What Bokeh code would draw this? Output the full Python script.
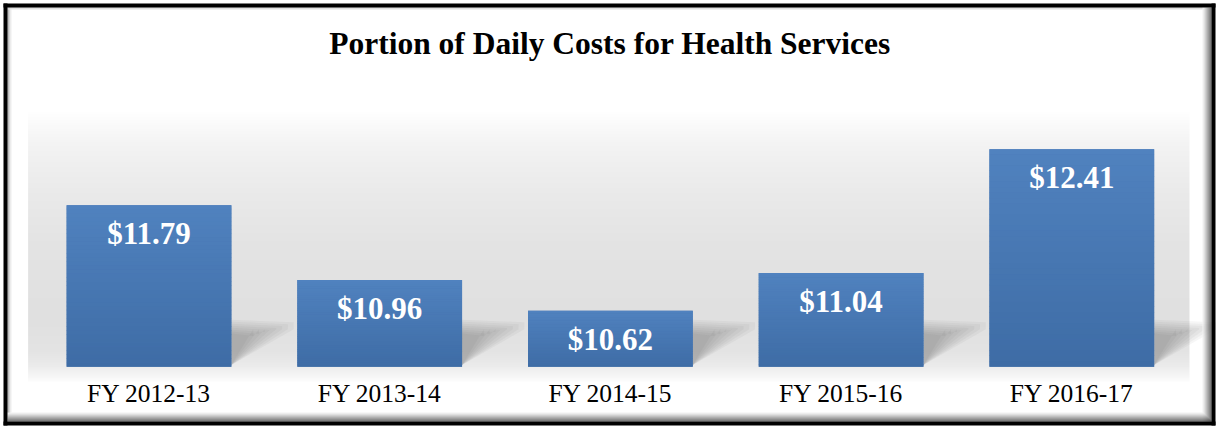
import numpy as np
from bokeh.plotting import figure
from bokeh.models import Range1d, Label, BoxAnnotation, ColumnDataSource
from bokeh.core.properties import value
from bokeh.embed import file_html
from bokeh.resources import INLINE

# ---------------- data ----------------
categories = ["FY 2012-13", "FY 2013-14", "FY 2014-15", "FY 2015-16", "FY 2016-17"]
costs = [11.79, 10.96, 10.62, 11.04, 12.41]
value_labels = ["$11.79", "$10.96", "$10.62", "$11.04", "$12.41"]
title_text = "Portion of Daily Costs for Health Services"

# ---------------- layout ----------------
W, H = 1216, 427
BASE = 10.0
PX_PER_UNIT = 90.3          # vertical pixels per dollar
PX_PER_CAT = 230.7          # horizontal pixels per category
FIRST_CENTER_PX = 148.5     # canvas x of first category centre
BASELINE_PX = 366.3         # canvas y of the $10 baseline
X0 = -FIRST_CENTER_PX / PX_PER_CAT
X1 = X0 + W / PX_PER_CAT
Y0 = BASE - (H - BASELINE_PX) / PX_PER_UNIT
Y1 = BASE + BASELINE_PX / PX_PER_UNIT
BAR_W = 0.714
SERIF = "Liberation Serif"

p = figure(width=W, height=H, x_range=Range1d(X0, X1), y_range=Range1d(Y0, Y1),
           output_backend="svg", toolbar_location=None,
           x_axis_location=None, y_axis_location=None, min_border=0)
p.grid.visible = False
p.outline_line_color = None
p.background_fill_color = "white"
p.border_fill_color = "white"

def px_to_val(py):
    return BASE + (BASELINE_PX - py) / PX_PER_UNIT

# ---- background "floor" gradient (canvas px -> gray level) ----
g_stops_px = [111, 145, 193, 241, 318, 352, 366, 381]
g_stops_gray = [255, 243, 234, 228, 224, 228, 236, 252]
g_top = px_to_val(g_stops_px[0])
g_bot = px_to_val(g_stops_px[-1])
NR = 320
vals = np.linspace(g_bot, g_top, NR)
pys = BASELINE_PX - (vals - BASE) * PX_PER_UNIT
grays = np.interp(pys, g_stops_px, g_stops_gray).astype(np.uint8)
img = np.zeros((NR, 1), dtype=np.uint32)
view = img.view(dtype=np.uint8).reshape((NR, 1, 4))
view[:, 0, 0] = grays
view[:, 0, 1] = grays
view[:, 0, 2] = grays
view[:, 0, 3] = 255
gx0 = -0.524
gx1 = len(categories) - 1 + 0.51
p.image_rgba(image=[img], x=gx0, y=g_bot, dw=gx1 - gx0, dh=g_top - g_bot)

# ---- soft floor shadows to the right of each bar ----
idx = list(range(len(categories)))
sdx = 0.27
sdy = 0.52
for shrink in np.linspace(1.0, 0.35, 8):
    xs, ys = [], []
    for i in idx:
        xr = i + BAR_W / 2
        xs.append([xr, xr, xr + sdx * shrink, xr + sdx * shrink])
        ys.append([BASE + 0.02, BASE + sdy * (0.55 + 0.45 * shrink),
                   BASE + sdy * (0.5 + 0.45 * shrink), BASE + sdy * 0.8])
    p.patches(xs=xs, ys=ys, fill_color="#555555", fill_alpha=0.05, line_color=None)

# ---- bars with vertical gradient ----
top_rgb = np.array([80, 130, 191])
bot_rgb = np.array([62, 108, 165])
p.vbar(x=idx, bottom=BASE, top=costs, width=BAR_W, fill_color="#4775b0", line_color=None)
N = 40
sx, sb, st, sc = [], [], [], []
for i, v in zip(idx, costs):
    for k in range(N):
        b = BASE + (v - BASE) * k / N
        t = BASE + (v - BASE) * (k + 1) / N
        if k < N - 1:
            t += 0.004
        c = bot_rgb + (top_rgb - bot_rgb) * ((k + 0.5) / N)
        sx.append(i); sb.append(b); st.append(t)
        sc.append("#%02x%02x%02x" % tuple(int(round(z)) for z in c))
p.vbar(x="x", bottom="b", top="t", width=BAR_W, fill_color="c", line_color=None,
       source=ColumnDataSource(dict(x=sx, b=sb, t=st, c=sc)))

# ---- value labels ----
p.text(x=idx, y=costs, text=value_labels, text_font=value(SERIF), text_font_style="bold",
       text_font_size="31px", text_color="white", text_align="center",
       text_baseline="middle", y_offset=28.5)

# ---- category labels (below the baseline) ----
p.text(x=idx, y=[BASE] * len(idx), text=categories, text_font=value(SERIF),
       text_font_size="25.5px", text_color="black", text_align="center",
       text_baseline="middle", y_offset=26.5)

# ---- title ----
p.add_layout(Label(x=609.5, y=H - 43.3, x_units="screen", y_units="screen",
                   text=title_text, text_font=SERIF, text_font_style="bold",
                   text_font_size="31.5px", text_color="black", text_align="center",
                   text_baseline="middle"))

# ---- frame border with bevel ----
def cbox(l, r, t, b, color):
    p.add_layout(BoxAnnotation(left=l, right=r, top=t, bottom=b,
                               left_units="canvas", right_units="canvas",
                               top_units="canvas", bottom_units="canvas",
                               fill_color=color, fill_alpha=1.0, line_color=None,
                               level="overlay"))

BL, BT, BR, BB = 3, 3, W - 1, H - 2      # outer edges of the black frame
TH = 4                                  # black thickness
right_grays = ["#f2f2f2", "#e2e2e2", "#cfcfcf", "#bababa", "#a4a4a4", "#8e8e8e", "#787878", "#626262", "#4c4c4c"]
nb = len(right_grays)
for j, col in enumerate(right_grays):
    x = BR - TH - nb + j
    cbox(x, x + 1, BT + TH, BB - TH, col)
for j, col in enumerate(right_grays):
    y = BB - TH - nb + j
    cbox(BL + TH, BR - TH - nb + j + 1, y, y + 1, col)
left_grays = ["#8c8c8c", "#b4b4b4", "#d6d6d6", "#eeeeee"]
for j, col in enumerate(left_grays):
    cbox(BL + TH + j, BL + TH + j + 1, BT + TH, BB - TH - nb, col)
top_grays = ["#bcbcbc", "#e2e2e2"]
for j, col in enumerate(top_grays):
    cbox(BL + TH, BR - TH - nb, BT + TH + j, BT + TH + j + 1, col)
cbox(BL, BR, BT, BT + TH, "black")
cbox(BL, BR, BB - TH, BB, "black")
cbox(BL, BL + TH, BT, BB, "black")
cbox(BR - TH, BR, BT, BB, "black")

open("out.html", "w").write(file_html(p, INLINE))
